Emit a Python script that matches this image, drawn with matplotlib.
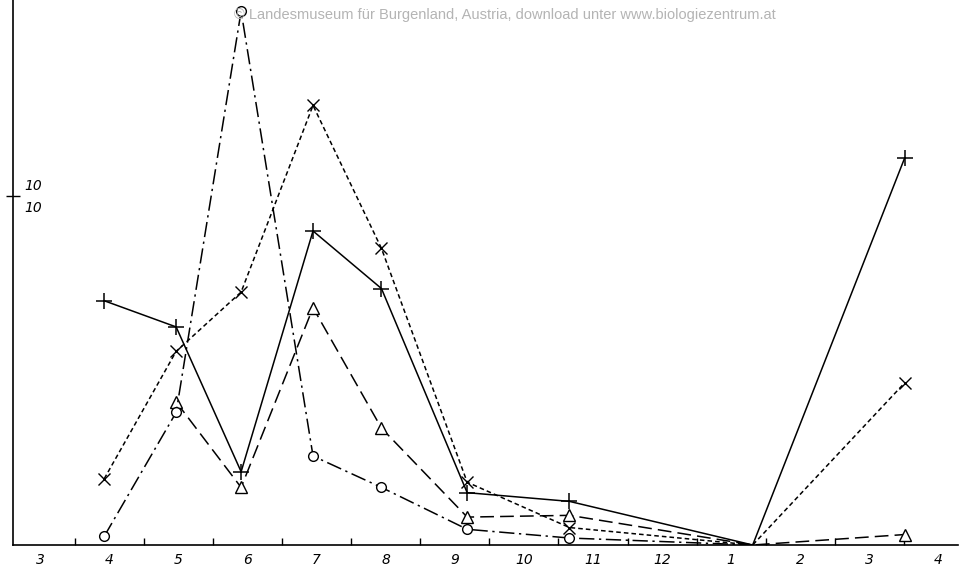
import matplotlib
matplotlib.use("Agg")
import matplotlib.pyplot as plt

# month positions (3 = March ... 16 = April of next year)
month_pos = list(range(3, 17))
month_labels = ["3", "4", "5", "6", "7", "8", "9", "10", "11", "12", "1", "2", "3", "4"]

# sampling dates (fractional month position)
x_all = [3.93, 4.97, 5.91, 6.95, 7.94, 9.18, 10.66, 13.31, 15.51]

plus_vals = [7.0, 6.25, 2.1, 9.0, 7.35, 1.5, 1.25, 0.0, 11.1]
cross_vals = [1.9, 5.55, 7.25, 12.6, 8.5, 1.8, 0.5, 0.0, 4.65]
tri_x = [4.97, 5.91, 6.95, 7.94, 9.18, 10.66, 13.31, 15.51]
tri_vals = [4.1, 1.65, 6.8, 3.35, 0.8, 0.85, 0.0, 0.3]
circ_x = [3.93, 4.97, 5.91, 6.95, 7.94, 9.18, 10.66, 13.31]
circ_vals = [0.25, 3.8, 15.3, 2.55, 1.65, 0.45, 0.2, 0.0]

fig = plt.figure(figsize=(9.61, 5.67), dpi=100)
ax = fig.add_axes([13 / 961, 22 / 567, 945 / 961, 545 / 567])

lw = 1.1
ax.plot(x_all, plus_vals, color="black", lw=lw, ls="-",
        marker="+", ms=11, mew=1.1, markevery=[0, 1, 2, 3, 4, 5, 6, 8])
ax.plot(x_all, cross_vals, color="black", lw=lw, ls=(0, (3, 2)),
        marker="x", ms=8, mew=1.0, markevery=[0, 1, 2, 3, 4, 5, 6, 8])
ax.plot(tri_x, tri_vals, color="black", lw=lw, ls=(0, (9, 4)),
        marker="^", ms=8, mfc="white", mew=1.0, markevery=[0, 1, 2, 3, 4, 5, 7])
ax.plot(circ_x, circ_vals, color="black", lw=lw, ls=(0, (10, 3, 1.5, 3)),
        marker="o", ms=7, mfc="white", mew=1.0, markevery=[0, 1, 2, 3, 4, 5, 6])

ax.set_xlim(2.61, 16.28)
ax.set_ylim(0, 15.62)

for s in ["top", "right"]:
    ax.spines[s].set_visible(False)
ax.spines["left"].set_linewidth(1.2)
ax.spines["bottom"].set_linewidth(1.2)

ax.set_xticks(month_pos)
ax.set_xticklabels(month_labels, fontstyle="italic", fontsize=10)
ax.tick_params(axis="x", which="major", length=0, pad=6)
ax.set_xticks([m + 0.5 for m in month_pos[:-1]], minor=True)
ax.tick_params(axis="x", which="minor", direction="in", length=5, width=1)

ax.set_yticks([10])
ax.set_yticklabels([""])
ax.tick_params(axis="y", direction="inout", length=10, width=1)
ax.text(0.012, 10.3, "10", transform=ax.get_yaxis_transform(),
        fontstyle="italic", fontsize=10, va="center")
ax.text(0.012, 9.65, "10", transform=ax.get_yaxis_transform(),
        fontstyle="italic", fontsize=10, va="center")

fig.text(505 / 961, 1 - 15 / 567,
         "© Landesmuseum für Burgenland, Austria, download unter www.biologiezentrum.at",
         ha="center", va="center", color="#b4b4b4", fontsize=10.5,
         family="Liberation Sans")

fig.savefig("out.png", dpi=100, facecolor="white")
